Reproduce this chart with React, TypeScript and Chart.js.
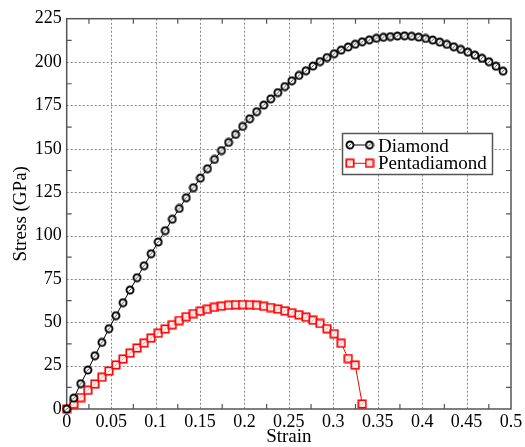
import React, { useEffect, useRef } from "react";
import { Chart, registerables } from "chart.js";

Chart.register(...registerables);

const strain = [
  0, 0.0079, 0.0158, 0.0238, 0.0317, 0.0396, 0.0475, 0.0554, 0.0634, 0.0713,
  0.0792, 0.0871, 0.095, 0.103, 0.1109, 0.1188, 0.1267, 0.1346, 0.1426, 0.1505,
  0.1584, 0.1663, 0.1742, 0.1822, 0.1901, 0.198, 0.2059, 0.2138, 0.2218, 0.2297,
  0.2376, 0.2455, 0.2534, 0.2614, 0.2693, 0.2772, 0.2851, 0.293, 0.301, 0.3089,
  0.3168, 0.3247, 0.3326, 0.3406, 0.3485, 0.3564, 0.3643, 0.3722, 0.3802, 0.3881,
  0.396, 0.4039, 0.4118, 0.4198, 0.4277, 0.4356, 0.4435, 0.4514, 0.4594, 0.4673,
  0.4752, 0.4831, 0.491,
];

const diamondStress = [
  0, 6.3, 14.6, 22.5, 30.7, 38.4, 46.3, 53.8, 61.3, 68.6,
  75.7, 82.6, 89.5, 96.3, 102.8, 109.4, 115.6, 121.8, 127.6, 133.1,
  138.5, 143.9, 149.0, 153.7, 158.3, 162.9, 167.3, 171.4, 175.2, 178.8,
  182.4, 185.9, 189.2, 192.3, 195.0, 197.7, 200.3, 202.6, 204.8, 206.9,
  208.7, 210.3, 211.7, 212.8, 213.7, 214.3, 214.7, 215.0, 215.1, 214.9,
  214.4, 213.6, 212.7, 211.5, 210.2, 208.8, 207.3, 205.7, 204.0, 202.2,
  200.2, 197.6, 194.8,
];

const pentaStress = [
  0, 2.8, 6.6, 10.8, 14.4, 18.3, 21.9, 25.4, 28.8, 32.2,
  35.2, 38.0, 40.9, 43.7, 46.1, 48.6, 51.0, 53.2, 55.0, 56.4,
  57.5, 58.6, 59.3, 59.8, 60.1, 60.2, 60.1, 59.8, 59.2, 58.5,
  57.6, 56.6, 55.5, 54.3, 52.9, 51.2, 49.3, 46.3, 43.4, 37.9,
  29.1, 25.3, 2.9,
];

const xTickValues = [0, 0.05, 0.1, 0.15, 0.2, 0.25, 0.3, 0.35, 0.4, 0.45, 0.5];
const xTickLabels = ["0", "0.05", "0.1", "0.15", "0.2", "0.25", "0.3", "0.35", "0.4", "0.45", "0.5"];
const yTickValues = [0, 25, 50, 75, 100, 125, 150, 175, 200, 225];
const yTickLabels = ["0", "25", "50", "75", "100", "125", "150", "175", "200", "225"];
const seriesNames = ["Diamond", "Pentadiamond"];

const FONT = "'Liberation Serif', 'Times New Roman', serif";
const FRAME = "#555";

function makeCircle(): HTMLCanvasElement {
  const c = document.createElement("canvas");
  c.width = 10;
  c.height = 10;
  const g = c.getContext("2d")!;
  g.beginPath();
  g.arc(5, 5, 3.5, 0, Math.PI * 2);
  g.fillStyle = "#fff";
  g.fill();
  g.lineWidth = 1.9;
  g.strokeStyle = "#000";
  g.stroke();
  g.beginPath();
  g.moveTo(3.4, 6.6);
  g.lineTo(6.6, 3.4);
  g.lineWidth = 1;
  g.strokeStyle = "#555";
  g.stroke();
  return c;
}

function makeSquare(): HTMLCanvasElement {
  const c = document.createElement("canvas");
  c.width = 10;
  c.height = 10;
  const g = c.getContext("2d")!;
  g.fillStyle = "#fff";
  g.fillRect(1.3, 1.3, 7.4, 7.4);
  g.lineWidth = 1.7;
  g.strokeStyle = "#ff0000";
  g.strokeRect(1.3, 1.3, 7.4, 7.4);
  g.beginPath();
  g.moveTo(3.5, 6.5);
  g.lineTo(6.5, 3.5);
  g.lineWidth = 0.9;
  g.strokeStyle = "#ff8888";
  g.stroke();
  return c;
}

export default function App() {
  const ref = useRef<HTMLCanvasElement>(null);

  useEffect(() => {
    if (!ref.current) return;
    const circle = makeCircle();
    const square = makeSquare();

    const framePlugin = {
      id: "framePlugin",
      beforeDatasetsDraw(chart: any) {
        const { ctx, chartArea } = chart;
        const { left, right, top, bottom } = chartArea;
        const xs = chart.scales.x;
        const ys = chart.scales.y;
        ctx.save();
        ctx.strokeStyle = "#888";
        ctx.lineWidth = 1;
        ctx.setLineDash([2, 2]);
        xTickValues.forEach((v) => {
          if (v <= 0 || v >= 0.5) return;
          const px = Math.round(xs.getPixelForValue(v)) + 0.5;
          ctx.beginPath();
          ctx.moveTo(px, top);
          ctx.lineTo(px, bottom);
          ctx.stroke();
        });
        yTickValues.forEach((v) => {
          if (v <= 0 || v >= 225) return;
          const py = Math.round(ys.getPixelForValue(v)) + 0.5;
          ctx.beginPath();
          ctx.moveTo(left, py);
          ctx.lineTo(right, py);
          ctx.stroke();
        });
        ctx.setLineDash([]);
        ctx.strokeStyle = FRAME;
        ctx.lineWidth = 1.2;
        for (let i = 0; i < xTickValues.length - 1; i++) {
          const v = (xTickValues[i] + xTickValues[i + 1]) / 2;
          const px = xs.getPixelForValue(v);
          ctx.beginPath();
          ctx.moveTo(px, bottom);
          ctx.lineTo(px, bottom - 5);
          ctx.moveTo(px, top);
          ctx.lineTo(px, top + 5);
          ctx.stroke();
        }
        for (let i = 0; i < yTickValues.length - 1; i++) {
          const v = (yTickValues[i] + yTickValues[i + 1]) / 2;
          const py = ys.getPixelForValue(v);
          ctx.beginPath();
          ctx.moveTo(left, py);
          ctx.lineTo(left + 5, py);
          ctx.moveTo(right, py);
          ctx.lineTo(right - 5, py);
          ctx.stroke();
        }
        ctx.lineWidth = 1.5;
        ctx.strokeRect(left, top, right - left, bottom - top);
        ctx.restore();
      },
    };

    const legendPlugin = {
      id: "customLegend",
      afterDraw(chart: any) {
        const { ctx } = chart;
        ctx.save();
        const bx = 342.5, by = 133.5, bw = 150, bh = 41;
        ctx.fillStyle = "#fff";
        ctx.fillRect(bx, by, bw, bh);
        ctx.strokeStyle = FRAME;
        ctx.lineWidth = 1.5;
        ctx.strokeRect(bx, by, bw, bh);
        const rows = [
          { y: 145, color: "#000", img: circle, baseline: 151.7 },
          { y: 163.3, color: "#ff0000", img: square, baseline: 169 },
        ];
        rows.forEach((r, i) => {
          ctx.strokeStyle = r.color;
          ctx.lineWidth = 1;
          ctx.beginPath();
          ctx.moveTo(350, r.y);
          ctx.lineTo(369.5, r.y);
          ctx.stroke();
          ctx.drawImage(r.img, 350 - 5, r.y - 5);
          ctx.drawImage(r.img, 369.5 - 5, r.y - 5);
          ctx.fillStyle = "#000";
          ctx.font = `19px ${FONT}`;
          ctx.textAlign = "left";
          ctx.textBaseline = "alphabetic";
          ctx.fillText(seriesNames[i], 378, r.baseline);
        });
        ctx.restore();
      },
    };

    const chart = new Chart(ref.current, {
      type: "line",
      data: {
        datasets: [
          {
            label: seriesNames[0],
            data: diamondStress.map((y, i) => ({ x: strain[i], y })),
            borderColor: "#000",
            backgroundColor: "#fff",
            borderWidth: 1,
            pointStyle: circle as any,
            pointRadius: 4,
            tension: 0,
            fill: false,
            clip: false as any,
          },
          {
            label: seriesNames[1],
            data: pentaStress.map((y, i) => ({ x: strain[i], y })),
            borderColor: "#ff0000",
            backgroundColor: "#fff",
            borderWidth: 1,
            pointStyle: square as any,
            pointRadius: 4,
            tension: 0,
            fill: false,
            clip: false as any,
          },
        ],
      },
      options: {
        animation: false,
        responsive: false,
        events: [],
        layout: { padding: { left: 0, right: 14, top: 18.7, bottom: 0 } },
        plugins: { legend: { display: false }, tooltip: { enabled: false } },
        scales: {
          x: {
            type: "linear",
            min: 0,
            max: 0.5,
            afterFit: (s: any) => {
              s.height = 38;
            },
            afterBuildTicks: (s: any) => {
              s.ticks = xTickValues.map((v) => ({ value: v }));
            },
            ticks: {
              autoSkip: false,
              maxRotation: 0,
              minRotation: 0,
              padding: 2,
              color: "#000",
              font: { family: FONT, size: 18 },
              callback: (_v: any, i: number) => xTickLabels[i],
            },
            grid: { display: false, drawTicks: false },
            border: { display: false },
            title: {
              display: true,
              text: "Strain",
              color: "#000",
              font: { family: FONT, size: 19, lineHeight: 1 },
              padding: { top: 0, bottom: 0 },
            },
          },
          y: {
            type: "linear",
            min: 0,
            max: 225,
            afterFit: (s: any) => {
              s.width = 66.7;
            },
            afterBuildTicks: (s: any) => {
              s.ticks = yTickValues.map((v) => ({ value: v }));
            },
            ticks: {
              autoSkip: false,
              padding: 5,
              color: "#000",
              font: { family: FONT, size: 18 },
              callback: (_v: any, i: number) => yTickLabels[i],
            },
            grid: { display: false, drawTicks: false },
            border: { display: false },
            title: {
              display: true,
              text: "Stress (GPa)",
              color: "#000",
              font: { family: FONT, size: 19, lineHeight: 1 },
              padding: { top: 11.5, bottom: 0 },
            },
          },
        },
      },
      plugins: [framePlugin, legendPlugin],
    });

    return () => chart.destroy();
  }, []);

  return (
    <div style={{ position: "absolute", left: 0, top: 0, width: 525, height: 447, background: "#fff" }}>
      <canvas ref={ref} width={525} height={447} style={{ display: "block" }} />
    </div>
  );
}
